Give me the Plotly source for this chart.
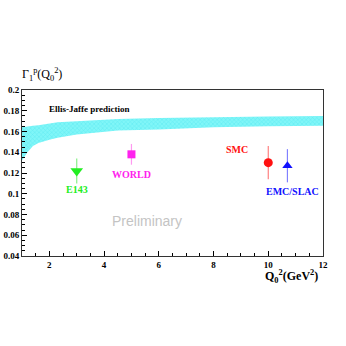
import plotly.graph_objects as go

# Ellis-Jaffe prediction band
band_x = [1.0, 1.2, 1.4, 1.6, 2.0, 2.3, 3.0, 4.5, 6.0, 8.0, 10.0, 12.0]
band_upper = [0.164, 0.165, 0.1655, 0.166, 0.168, 0.169, 0.170, 0.172, 0.173, 0.174, 0.1745, 0.175]
band_lower = [0.132, 0.140, 0.146, 0.149, 0.152, 0.154, 0.157, 0.161, 0.162, 0.164, 0.165, 0.1655]

# measurements
exp_names = ["E143", "WORLD", "SMC", "EMC/SLAC"]
exp_q2 = [3.0, 5.0, 10.0, 10.7]
exp_gamma = [0.122, 0.138, 0.130, 0.127]
exp_err = [0.012, 0.010, 0.016, 0.016]
exp_colors = ["#22ee22", "#ff22ee", "#ff1111", "#1111ff"]
exp_bar_colors = ["#88f088", "#ff99f0", "#ff8080", "#8080ff"]
exp_symbols = ["triangle-down", "square", "circle", "triangle-up"]
exp_sizes = [11, 8, 9, 9]
# label anchor points (x, y)
label_x = [3.0, 5.0, 9.35, 10.9]
label_y = [0.104, 0.119, 0.143, 0.102]

serif = "Liberation Serif"

fig = go.Figure()

fig.add_trace(go.Scatter(
    x=band_x, y=band_lower, mode="lines",
    line=dict(color="rgba(0,0,0,0)", width=0),
    showlegend=False, hoverinfo="skip",
))
fig.add_trace(go.Scatter(
    x=band_x, y=band_upper, mode="lines",
    line=dict(color="rgba(0,0,0,0)", width=0),
    fill="tonexty",
    fillcolor="#6ff2f6",
    fillpattern=dict(shape="x", fgcolor="#3fdbe8", bgcolor="#80f6f8",
                     size=3, solidity=0.3),
    showlegend=False, hoverinfo="skip",
))

for i in range(len(exp_names)):
    fig.add_trace(go.Scatter(
        x=[exp_q2[i]], y=[exp_gamma[i]], mode="markers",
        marker=dict(symbol=exp_symbols[i], size=exp_sizes[i],
                    color=exp_colors[i], line=dict(width=0)),
        error_y=dict(type="data", array=[exp_err[i]], color=exp_bar_colors[i],
                     thickness=1.2, width=0),
        name=exp_names[i], showlegend=False,
    ))
    fig.add_annotation(
        x=label_x[i], y=label_y[i], text=exp_names[i], showarrow=False,
        xanchor="right" if exp_names[i] == "SMC" else "center",
        font=dict(family=serif, size=10, color=exp_colors[i], weight="bold"),
    )

fig.add_annotation(
    x=3.45, y=0.182, text="Ellis-Jaffe prediction", showarrow=False,
    font=dict(family=serif, size=9, color="black", weight="bold"),
)
fig.add_annotation(
    x=5.55, y=0.074, text="Preliminary", showarrow=False,
    font=dict(family="Liberation Sans", size=14, color="#c4c4c4"),
)
fig.add_annotation(
    xref="paper", yref="paper", x=-0.005, y=1.03, xanchor="left", yanchor="bottom",
    text="Γ<sub>1</sub><sup>p</sup>(Q<sub>0</sub><sup>2</sup>)", showarrow=False,
    font=dict(family=serif, size=12, color="black"),
)
fig.add_annotation(
    xref="paper", yref="paper", x=0.99, y=-0.06, xanchor="right", yanchor="top",
    text="Q<sub>0</sub><sup>2</sup>(GeV<sup>2</sup>)", showarrow=False,
    font=dict(family=serif, size=12, color="black", weight="bold"),
)

axis_common = dict(
    showgrid=False, zeroline=False, showline=True, linecolor="#333333",
    linewidth=1, mirror=True, ticks="inside", ticklen=5, tickcolor="black",
    automargin=False,
    tickfont=dict(family=serif, size=9, color="black", weight="bold"),
)

fig.update_xaxes(range=[1, 12], dtick=2, tick0=0,
                 minor=dict(dtick=0.5, ticklen=3, ticks="inside", tickcolor="black"),
                 **axis_common)
fig.update_yaxes(range=[0.04, 0.2], dtick=0.02, tick0=0,
                 minor=dict(dtick=0.005, ticklen=3, ticks="inside", tickcolor="black"),
                 **axis_common)

fig.update_layout(
    width=346, height=346, autosize=False,
    margin=dict(l=22, r=23, t=90, b=90, pad=0),
    plot_bgcolor="white", paper_bgcolor="white",
)

fig.write_html("out.html", config={"displayModeBar": False},
               post_script="document.body.style.margin='0';")
